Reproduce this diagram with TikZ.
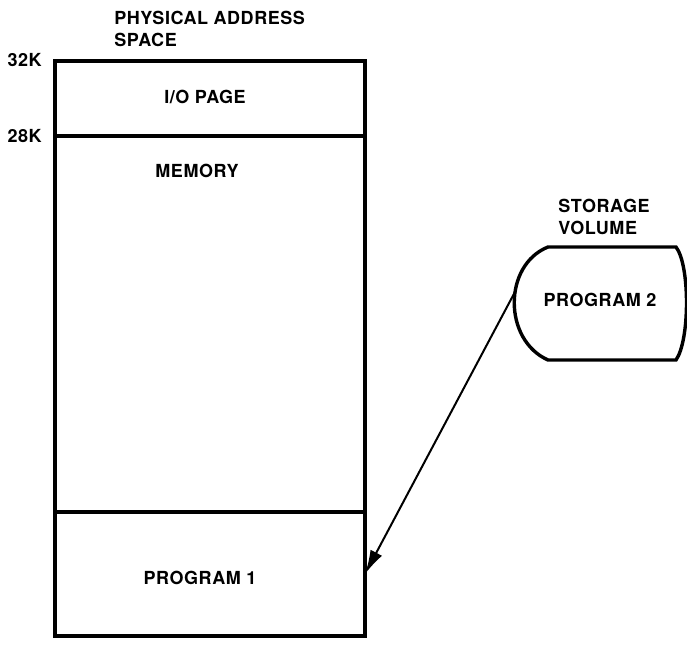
\documentclass[tikz,border=0pt]{standalone}
\usepackage{fontspec}
\setmainfont{TeX Gyre Heros}[LetterSpace=3]
\usetikzlibrary{arrows.meta,positioning}

\begin{document}
\begin{tikzpicture}[
  x=0.5pt, y=-0.5pt,
  font=\fontsize{9}{11}\selectfont\bfseries,
  region/.style={draw, line width=1pt, minimum width=154pt, inner sep=0pt, anchor=north west},
  outline/.style={line width=1.7pt},
  txt/.style={inner sep=1pt, align=center},
  arrow/.style={-{Latex[length=12pt,width=6.5pt]}, line width=1pt}
]
\useasboundingbox (0,0) rectangle (687,658);
\node[region, minimum height=36.5pt] (iopage) at (55,61) {};
\node[region, minimum height=187pt] (mem) at (iopage.south west) {};
\node[region, minimum height=61pt] (prog1) at (mem.south west) {};
\draw[outline] (iopage.north west) rectangle (prog1.south east);
\node[txt, anchor=west, align=left] (pas) at (112,29) {PHYSICAL ADDRESS\\SPACE};
\node[txt, anchor=east] (k32) at (44,60) {32K};
\node[txt, anchor=east] (k28) at (44,136) {28K};
\node[txt] (iotext) at (205,97) {I/O PAGE};
\node[txt] (memtext) at (197,171) {MEMORY};
\node[txt] (p1text) at (200,578) {PROGRAM 1};
\draw[outline] (548,247) -- (676,247) .. controls (690,265) and (690,340) .. (676,360)
  -- (548,360) .. controls (503,340) and (503,265) .. cycle;
\node[txt, anchor=west, align=left] (voltext) at (556,217) {STORAGE\\VOLUME};
\node[txt] (prog2) at (600,300) {PROGRAM 2};
\coordinate (volin) at (516,290);
\draw[arrow] (volin) -- (prog1.east);
\end{tikzpicture}
\end{document}
